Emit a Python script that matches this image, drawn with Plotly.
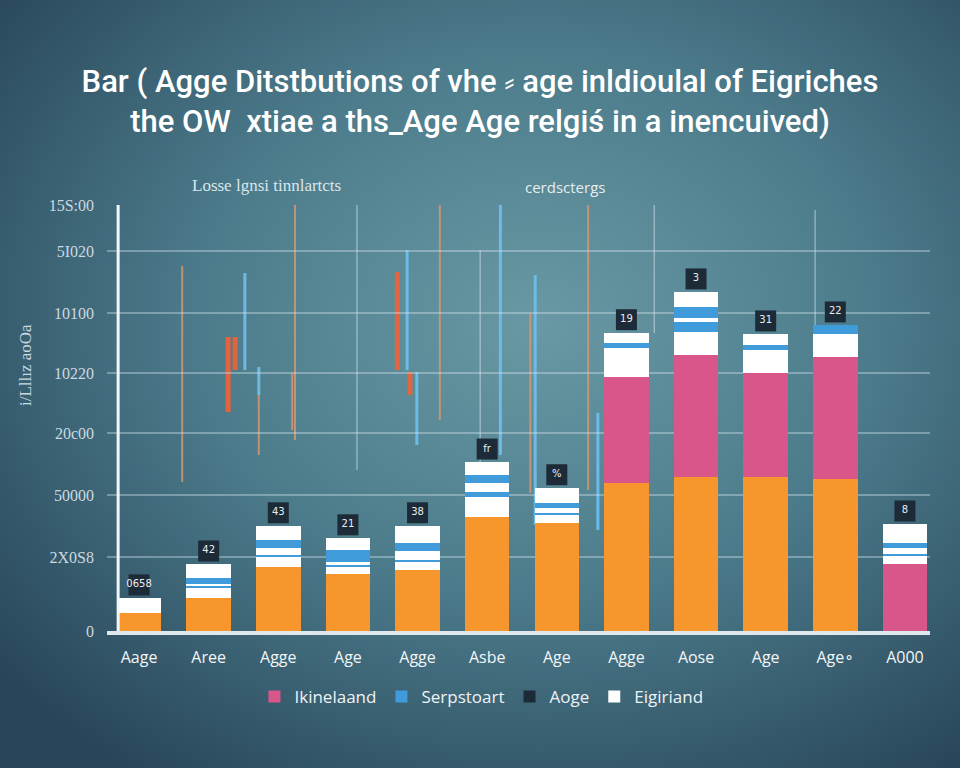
import plotly.graph_objects as go

# ---------------- data ----------------
categories = ["Aage", "Aree", "Agge", "Age", "Agge", "Asbe", "Age", "Agge", "Aose", "Age", "Age\u2218", "A000"]
orange_vals = [590, 1085, 2105, 1875, 2005, 3745, 3550, 4865, 5060, 5060, 4995, 0]
pink_vals   = [0, 0, 0, 0, 0, 0, 0, 3485, 4010, 3420, 4010, 2200]
white1_vals = [495, 330, 330, 230, 265, 655, 265, 955, 755, 755, 755, 265]
blue1_vals  = [0, 65, 65, 65, 65, 165, 65, 165, 330, 165, 295, 65]
white2_vals = [0, 65, 230, 100, 295, 295, 165, 330, 130, 360, 0, 195]
blue2_vals  = [0, 195, 265, 395, 265, 265, 165, 0, 360, 0, 0, 165]
white3_vals = [0, 460, 460, 395, 560, 425, 495, 0, 495, 0, 0, 625]
box_labels  = ["0658", "42", "43", "21", "38", "fr", "%", "19", "3", "31", "22", "8"]

y_tickvals = [0, 2430, 4470, 6505, 8480, 10450, 12490, 14000]
y_ticktext = ["0", "2X0S8", "50000", "20c00", "10220", "10100", "5I020", "15S:00"]

# decorative thin strokes (x in category units, y in value units)
tan_x  = [0.62, 2.24, 4.32, 5.62, 6.45, 2.20, 1.72]
tan_y0 = [4896, 6276, 6933, 4535, 4633, 6605, 5783]
tan_y1 = [11995, 14000, 14000, 10449, 14000, 8478, 7755]
blue_x  = [1.52, 3.85, 5.19, 3.99, 1.72, 6.59, 5.69]
blue_y0 = [8576, 8576, 5783, 6112, 7755, 3319, 3483]
blue_y1 = [11764, 12520, 14000, 8511, 8675, 7163, 11698]
red_x  = [1.28, 1.38, 3.71, 3.89]
red_y0 = [7196, 8576, 8576, 7755]
red_y1 = [9661, 9661, 11797, 8511]
grid_x  = [3.13, 4.90, 7.40, 9.71, -0.30]
grid_y0 = [5290, 4305, 9792, 7262, 0]
grid_y1 = [14000, 12520, 14000, 13834, 14000]

xs = list(range(len(categories)))

ORANGE = "#f7962c"
PINK = "#d9568b"
BLUE = "#3f9bd9"
WHITE = "#ffffff"
DARK = "#1d2a38"

fig = go.Figure()

bar_common = dict(width=0.64, marker_line_width=0)
fig.add_trace(go.Bar(x=xs, y=orange_vals, marker_color=ORANGE, showlegend=False, name="orange", **bar_common))
fig.add_trace(go.Bar(x=xs, y=pink_vals, marker_color=PINK, name="Ikinelaand", legendrank=1, **bar_common))
fig.add_trace(go.Bar(x=xs, y=white1_vals, marker_color=WHITE, name="Eigiriand", legendrank=4, legendgroup="w", **bar_common))
fig.add_trace(go.Bar(x=xs, y=blue1_vals, marker_color=BLUE, name="Serpstoart", legendrank=2, legendgroup="b", **bar_common))
fig.add_trace(go.Bar(x=xs, y=white2_vals, marker_color=WHITE, showlegend=False, legendgroup="w", name="w2", **bar_common))
fig.add_trace(go.Bar(x=xs, y=blue2_vals, marker_color=BLUE, showlegend=False, legendgroup="b", name="b2", **bar_common))
fig.add_trace(go.Bar(x=xs, y=white3_vals, marker_color=WHITE, showlegend=False, legendgroup="w", name="w3", **bar_common))

totals = [sum(v) for v in zip(orange_vals, pink_vals, white1_vals, blue1_vals, white2_vals, blue2_vals, white3_vals)]
fig.add_trace(go.Scatter(
    x=xs, y=[t + 430 for t in totals], mode="markers+text", name="Aoge", legendrank=3,
    text=box_labels, textposition="middle center",
    textfont=dict(color="#e9eef2", size=10, family="DejaVu Sans"),
    marker=dict(symbol="square", size=21, color=DARK), cliponaxis=False,
))

# decorative strokes as shapes (below traces)
def add_strokes(xv, y0v, y1v, color, width):
    for xx, a, b in zip(xv, y0v, y1v):
        fig.add_shape(type="line", xref="x", yref="y", x0=xx, x1=xx, y0=a, y1=b,
                      line=dict(color=color, width=width), layer="below")

add_strokes(grid_x[:-1], grid_y0[:-1], grid_y1[:-1], "rgba(225,238,243,0.45)", 1.5)
add_strokes(tan_x, tan_y0, tan_y1, "rgba(214,150,110,0.85)", 2)
add_strokes(blue_x, blue_y0, blue_y1, "rgba(110,190,235,0.95)", 3)
add_strokes(red_x, red_y0, red_y1, "rgba(232,100,58,0.95)", 5)
# y axis line
fig.add_shape(type="line", xref="x", yref="y", x0=grid_x[-1], x1=grid_x[-1], y0=grid_y0[-1], y1=grid_y1[-1],
              line=dict(color="#f2f6f8", width=3), layer="above")

bg_svg = (
    "data:image/svg+xml;utf8,"
    "<svg xmlns='http://www.w3.org/2000/svg' width='960' height='768'>"
    "<defs><radialGradient id='g' cx='0.56' cy='0.42' r='0.72'>"
    "<stop offset='0' stop-color='%236a99a5'/>"
    "<stop offset='0.5' stop-color='%234b7a8a'/>"
    "<stop offset='1' stop-color='%23284659'/>"
    "</radialGradient></defs>"
    "<rect width='960' height='768' fill='url(%23g)'/></svg>"
)

fig.update_layout(
    width=960, height=768,
    barmode="stack",
    bargap=0.36,
    paper_bgcolor="#46717f",
    plot_bgcolor="rgba(0,0,0,0)",
    margin=dict(l=107, r=30, t=205, b=137),
    images=[dict(source=bg_svg, xref="paper", yref="paper", x=-107/823, y=1 + 205/426,
                 sizex=960/823, sizey=768/426, xanchor="left", yanchor="top",
                 sizing="stretch", layer="below")],
    title=dict(
        text="Bar ( Agge Ditstbutions of vhe \u2e17 age inldioulal of Eigriches<br>"
             "the OW  xtiae a ths_Age Age relgi\u015b in a inencuived)",
        x=0.5, xanchor="center", y=1 - 92/768, yanchor="middle",
        font=dict(family="Roboto", size=31, color="#ffffff", weight=500),
    ),
    xaxis=dict(
        range=[-0.46, 11.36], tickmode="array", tickvals=xs, ticktext=categories,
        showgrid=False, zeroline=False, showline=True, linecolor="#dfe8ec", linewidth=4,
        ticks="", ticklabelstandoff=9,
        tickfont=dict(family="Open Sans", size=16, color="#f2f6f8"),
    ),
    yaxis=dict(
        range=[0, 14000], tickmode="array", tickvals=y_tickvals, ticktext=y_ticktext,
        showgrid=True, gridcolor="rgba(215,232,238,0.38)", gridwidth=1.5,
        zeroline=False, showline=False, ticks="", ticklabelstandoff=12,
        tickfont=dict(family="Liberation Serif", size=16, color="#cbd9e0"),
    ),
    legend=dict(
        orientation="h", x=0.455, xanchor="center", y=-0.155, yanchor="middle",
        font=dict(family="Open Sans", size=17, color="#eef3f6"),
        bgcolor="rgba(0,0,0,0)", itemsizing="constant",
    ),
    annotations=[
        dict(text="Losse lgnsi tinnlartcts", xref="paper", yref="paper",
             x=(266 - 107) / 823, y=(631 - 185) / 426, showarrow=False, xanchor="center", yanchor="middle",
             font=dict(family="Liberation Serif", size=17, color="#dbe6ec")),
        dict(text="cerdsctergs", xref="paper", yref="paper",
             x=(565 - 107) / 823, y=(631 - 187) / 426, showarrow=False, xanchor="center", yanchor="middle",
             font=dict(family="Open Sans", size=15, color="#e6eef2")),
        dict(text="i/Lllız aoOa", xref="paper", yref="paper", textangle=-90,
             x=(25 - 107) / 823, y=(631 - 365) / 426, showarrow=False, xanchor="center", yanchor="middle",
             font=dict(family="Liberation Serif", size=17, color="#cbd9e0")),
    ],
)

fig.write_html("out.html")
